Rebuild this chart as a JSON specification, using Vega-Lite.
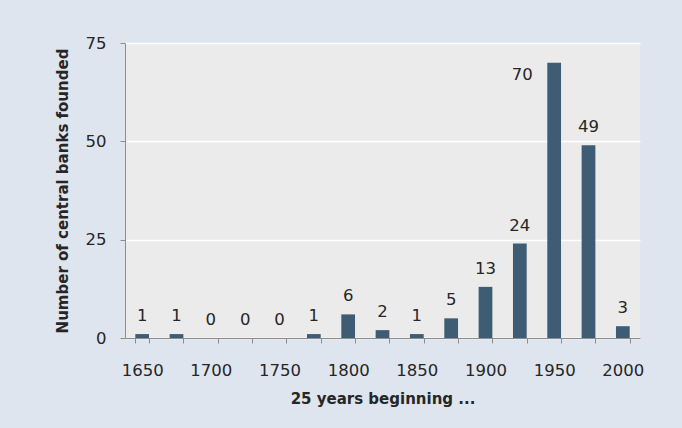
{
  "$schema": "https://vega.github.io/schema/vega-lite/v6.json",
  "width": 515,
  "height": 295,
  "autosize": "none",
  "padding": {"left": 125, "top": 43, "right": 42, "bottom": 90},
  "background": "#dfe5ee",
  "config": {
    "view": {"fill": "#ebebeb", "stroke": null},
    "font": "DejaVu Sans",
    "axis": {
      "labelFont": "DejaVu Sans",
      "titleFont": "DejaVu Sans",
      "labelFontSize": 16.5,
      "titleFontSize": 15,
      "labelColor": "#262626",
      "titleColor": "#262626",
      "titleFontWeight": "bold",
      "domainColor": "#8c8c8c",
      "tickColor": "#8c8c8c",
      "tickSize": 5
    }
  },
  "data": {
    "values": [
      {"period": 1650, "banks": 1},
      {"period": 1675, "banks": 1},
      {"period": 1700, "banks": 0},
      {"period": 1725, "banks": 0},
      {"period": 1750, "banks": 0},
      {"period": 1775, "banks": 1},
      {"period": 1800, "banks": 6},
      {"period": 1825, "banks": 2},
      {"period": 1850, "banks": 1},
      {"period": 1875, "banks": 5},
      {"period": 1900, "banks": 13},
      {"period": 1925, "banks": 24},
      {"period": 1950, "banks": 70},
      {"period": 1975, "banks": 49},
      {"period": 2000, "banks": 3}
    ]
  },
  "encoding": {
    "x": {
      "field": "period",
      "type": "ordinal",
      "scale": {"paddingInner": 0.6, "paddingOuter": 0.3},
      "axis": {
        "title": "25 years beginning ...",
        "labelAngle": 0,
        "tickBand": "extent",
        "labelOverlap": false,
        "labelPadding": 19,
        "titlePadding": 13,
        "labelExpr": "datum.value % 50 == 0 ? datum.label : ''"
      }
    },
    "y": {
      "field": "banks",
      "type": "quantitative",
      "scale": {"domain": [0, 75], "nice": false},
      "axis": {
        "title": "Number of central banks founded",
        "values": [0, 25, 50, 75],
        "grid": true,
        "gridColor": "#ffffff",
        "gridWidth": 1.5,
        "labelPadding": 14,
        "titlePadding": 15
      }
    }
  },
  "layer": [
    {"mark": {"type": "bar", "color": "#3e5d74"}},
    {
      "transform": [{"filter": "datum.banks < 70"}],
      "mark": {"type": "text", "baseline": "alphabetic", "dy": -13, "fontSize": 16.5, "color": "#262626", "font": "DejaVu Sans"},
      "encoding": {"text": {"field": "banks", "type": "quantitative"}}
    },
    {
      "transform": [{"filter": "datum.banks >= 70"}],
      "mark": {"type": "text", "baseline": "alphabetic", "dy": 17, "dx": -32, "fontSize": 16.5, "color": "#262626", "font": "DejaVu Sans"},
      "encoding": {"text": {"field": "banks", "type": "quantitative"}}
    }
  ]
}
